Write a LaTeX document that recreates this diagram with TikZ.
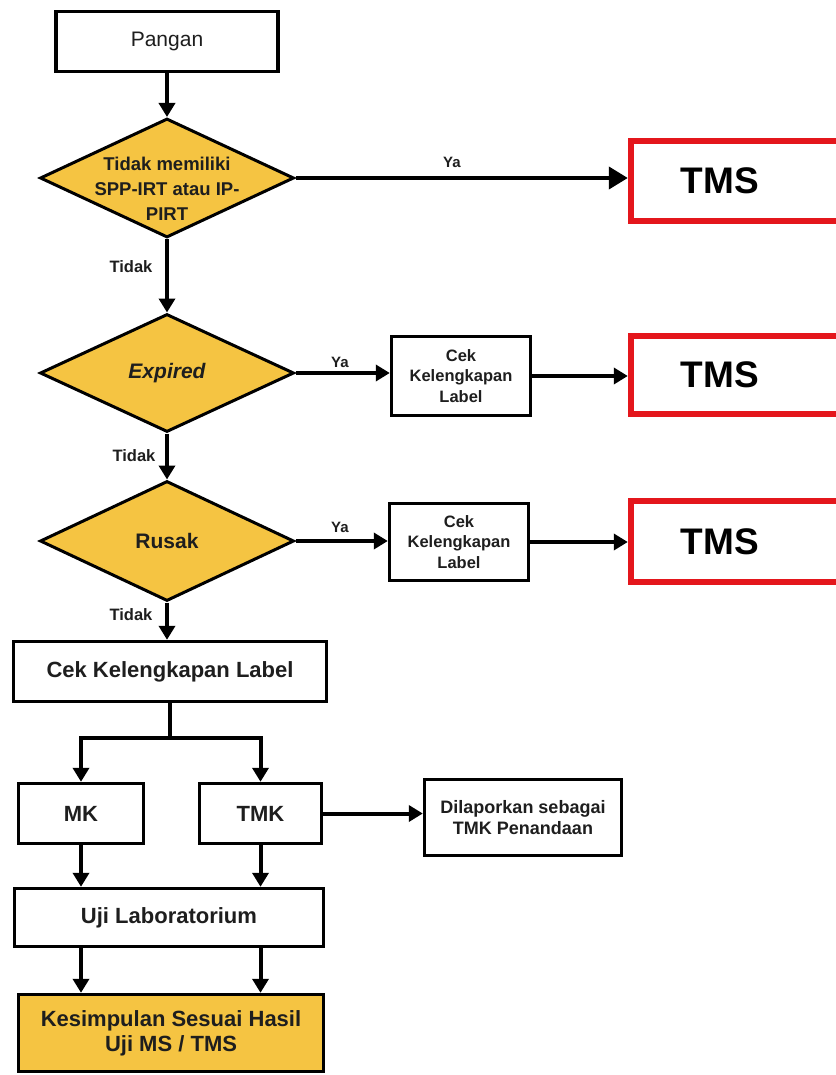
\documentclass[tikz,border=0pt]{standalone}
\usepackage{fontspec}
\setmainfont{Liberation Sans}
\usetikzlibrary{shapes.geometric,arrows.meta}
\definecolor{ygold}{RGB}{245,196,66}
\definecolor{tmsred}{RGB}{228,22,28}
\definecolor{txt}{RGB}{30,30,30}
\begin{document}
\begin{tikzpicture}[x=1pt,y=-1pt,
  box/.style={draw=black, line width=3.4pt, fill=white, rectangle, inner sep=2pt, align=center, text=txt},
  dec/.style={diamond, draw=black, line width=3pt, fill=ygold, inner sep=0pt, text=txt},
  tms/.style={rectangle, inner sep=0pt, minimum width=178pt, font=\bfseries\fontsize{37}{40}\selectfont, text=black},
  tmsframe/.style={draw=tmsred, line width=6pt},
  arr/.style={line width=4pt, -{Triangle[length=14pt,width=16pt]}},
  bigarr/.style={line width=4pt, -{Triangle[length=19pt,width=22pt]}},
  lbl/.style={font=\bfseries\fontsize{15}{17}\selectfont, text=txt, inner sep=0pt},
  tlbl/.style={font=\bfseries\fontsize{16.5}{18}\selectfont, text=txt, inner sep=0pt},
  ncon/.style={line width=4pt},
]
\useasboundingbox (0,0) rectangle (835,1075);

% main column
\node[box, font=\fontsize{21}{25}\selectfont, minimum width=222pt, minimum height=60pt] (pangan) at (167,41.5) {Pangan};

\node[dec, minimum width=254pt, minimum height=119pt] (d1) at (167,178) {};
\node[font=\bfseries\fontsize{18.5}{25}\selectfont, align=center, text=txt, inner sep=0pt] (d1t) at (167,189) {Tidak memiliki\\SPP-IRT atau IP-\\PIRT};

\node[dec, minimum width=254pt, minimum height=118pt, font=\bfseries\itshape\fontsize{21}{25}\selectfont] (d2) at (167,373) {Expired};
\node[dec, minimum width=254pt, minimum height=120pt, font=\bfseries\fontsize{21}{25}\selectfont] (d3) at (167,541) {Rusak};

% right column (red frames run past the right edge)
\node[tms, minimum height=80pt] (t1) at (720,181) {TMS};
\node[tms, minimum height=78pt] (t2) at (720,375) {TMS};
\node[tms, minimum height=81pt] (t3) at (720,541.5) {TMS};
\foreach \t in {t1,t2,t3}{
  \draw[tmsframe] ([xshift=150pt]\t.north east) -- (\t.north west) -- (\t.south west) -- ([xshift=150pt]\t.south east);
}

\node[box, font=\bfseries\fontsize{16.5}{20.5}\selectfont, minimum width=139pt, minimum height=79pt] (c1) at (461,376) {Cek\\Kelengkapan\\Label};
\node[box, font=\bfseries\fontsize{16.5}{20.5}\selectfont, minimum width=139pt, minimum height=77pt] (c2) at (459,542) {Cek\\Kelengkapan\\Label};

% lower part
\node[box, font=\bfseries\fontsize{22}{25}\selectfont, minimum width=313pt, minimum height=60pt] (cek) at (170,671.5) {Cek Kelengkapan Label};
\node[box, font=\bfseries\fontsize{22}{25}\selectfont, minimum width=125pt, minimum height=60pt] (mk) at (81,813.5) {MK};
\node[box, font=\bfseries\fontsize{22}{25}\selectfont, minimum width=122pt, minimum height=60pt] (tmk) at (260.5,813.5) {TMK};
\node[box, font=\bfseries\fontsize{18}{21}\selectfont, minimum width=197pt, minimum height=76pt] (dil) at (523,817.5) {Dilaporkan sebagai\\TMK Penandaan};
\node[box, font=\bfseries\fontsize{22}{25}\selectfont, minimum width=309pt, minimum height=58pt] (uji) at (169,917.5) {Uji Laboratorium};
\node[box, fill=ygold, font=\bfseries\fontsize{22}{25}\selectfont, minimum width=305pt, minimum height=77pt] (kes) at (171,1033) {Kesimpulan Sesuai Hasil\\Uji MS / TMS};

% labels
\node[lbl] (ya1) at (452,162) {Ya};
\node[lbl] (ya2) at (340,362) {Ya};
\node[lbl] (ya3) at (340,527) {Ya};
\node[tlbl] (ti1) at (131,267) {Tidak};
\node[tlbl] (ti2) at (134,456) {Tidak};
\node[tlbl] (ti3) at (131,615) {Tidak};

% connectors
\draw[arr] (pangan.south) -- (d1.north);
\draw[bigarr] (d1.east) -- ([xshift=-3pt]d1.east -| t1.west);
\draw[arr] (d1.south) -- (d2.north);
\draw[arr] (d2.east) -- (d2.east -| c1.west);
\draw[arr] (c1.east) -- ([xshift=-3pt]c1.east -| t2.west);
\draw[arr] (d2.south) -- (d3.north);
\draw[arr] (d3.east) -- (d3.east -| c2.west);
\draw[arr] (c2.east) -- ([xshift=-3pt]c2.east -| t3.west);
\draw[arr] (d3.south) -- (d3.south |- cek.north);

\coordinate (split) at (170,738);
\draw[ncon] (cek.south) -- (split);
\draw[arr] (split) -| (mk.north);
\draw[arr] (split) -| (tmk.north);
\draw[arr] (tmk.east) -- (tmk.east -| dil.west);
\draw[arr] (mk.south) -- (uji.north -| mk.south);
\draw[arr] (tmk.south) -- (uji.north -| tmk.south);
\draw[arr] (uji.south -| mk.south) -- (kes.north -| mk.south);
\draw[arr] (uji.south -| tmk.south) -- (kes.north -| tmk.south);
\end{tikzpicture}
\end{document}
